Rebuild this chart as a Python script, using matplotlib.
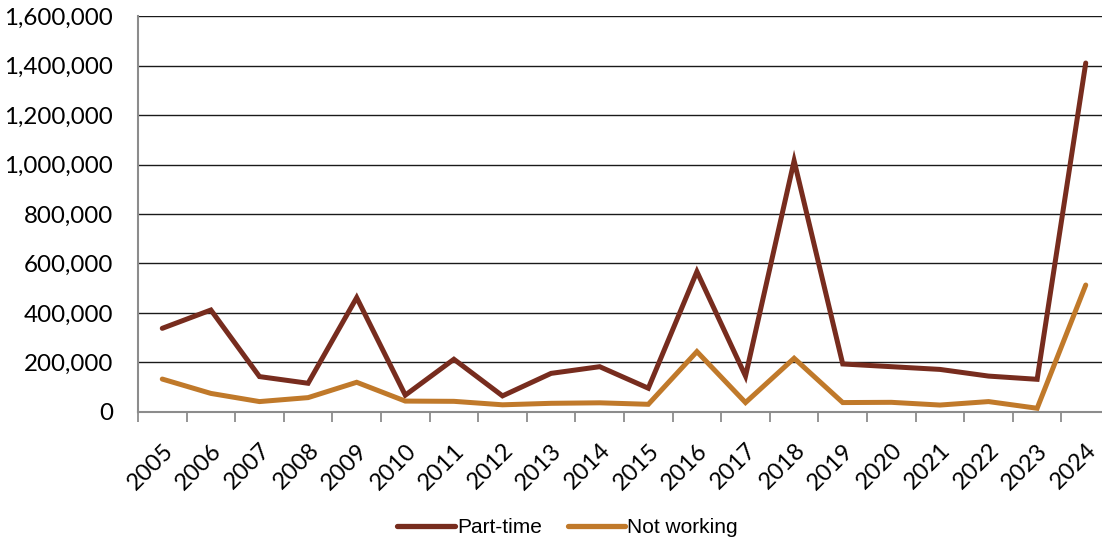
import numpy as np
import matplotlib
matplotlib.use("Agg")
from matplotlib import pyplot as plt
from matplotlib.ticker import FuncFormatter

years = [str(y) for y in range(2005, 2025)]
part_time = [338000, 412000, 143000, 116000, 462000, 68000, 213000, 65000, 156000, 183000,
             96000, 567000, 145000, 1015000, 194000, 183000, 172000, 145000, 132000, 1410000]
not_working = [133000, 75000, 42000, 58000, 120000, 44000, 43000, 29000, 35000, 37000,
               31000, 244000, 38000, 217000, 38000, 39000, 28000, 42000, 15000, 513000]

PART_COLOR = "#772C1E"
NOT_COLOR = "#C0792A"

plt.rcParams['font.family'] = ['Lato', 'DejaVu Sans']

fig = plt.figure(figsize=(11.02, 5.43), dpi=100)
ax = fig.add_axes([0.1252, 0.2413, 0.8821, 0.7292])

x = np.arange(len(years))
ax.plot(x, part_time, color=PART_COLOR, lw=3.6, label="Part-time",
        solid_joinstyle="miter", solid_capstyle="round", zorder=3)
ax.plot(x, not_working, color=NOT_COLOR, lw=3.6, label="Not working",
        solid_joinstyle="miter", solid_capstyle="round", zorder=3)

ax.set_xlim(-0.5, len(years) - 0.5)
ax.set_ylim(0, 1600000)
ax.set_yticks(np.arange(0, 1600001, 200000))
ax.yaxis.set_major_formatter(FuncFormatter(lambda v, p: f"{int(v):,}"))
ax.grid(axis="y", color="#1a1a1a", lw=1.0, zorder=1)
ax.set_axisbelow(True)

# category boundaries get the tick marks, labels sit at centers
ax.set_xticks(x)
ax.set_xticks(np.arange(-0.5, len(years), 1.0), minor=True)
ax.set_xticklabels(years, rotation=45, ha="right", va="top", rotation_mode="anchor",
                   fontsize=17)
ax.tick_params(axis="x", which="major", length=0, pad=20)
ax.tick_params(axis="x", which="minor", length=7, width=1.3, color="#8c8c8c", direction="out")
ax.tick_params(axis="y", length=0, labelsize=17.4, pad=18)

for s in ["top", "right"]:
    ax.spines[s].set_visible(False)
for s in ["left", "bottom"]:
    ax.spines[s].set_color("#8c8c8c")
    ax.spines[s].set_linewidth(1.5)

leg = fig.legend(loc="center", bbox_to_anchor=(0.515, 0.028), ncol=2, frameon=False,
                 handlelength=2.75, handletextpad=0.1, columnspacing=1.25,
                 prop={'family': ['Liberation Sans', 'DejaVu Sans'], 'size': 15})
for h in leg.get_lines():
    h.set_linewidth(3.8)
    h.set_solid_capstyle("round")

fig.savefig("out.png", dpi=100)
